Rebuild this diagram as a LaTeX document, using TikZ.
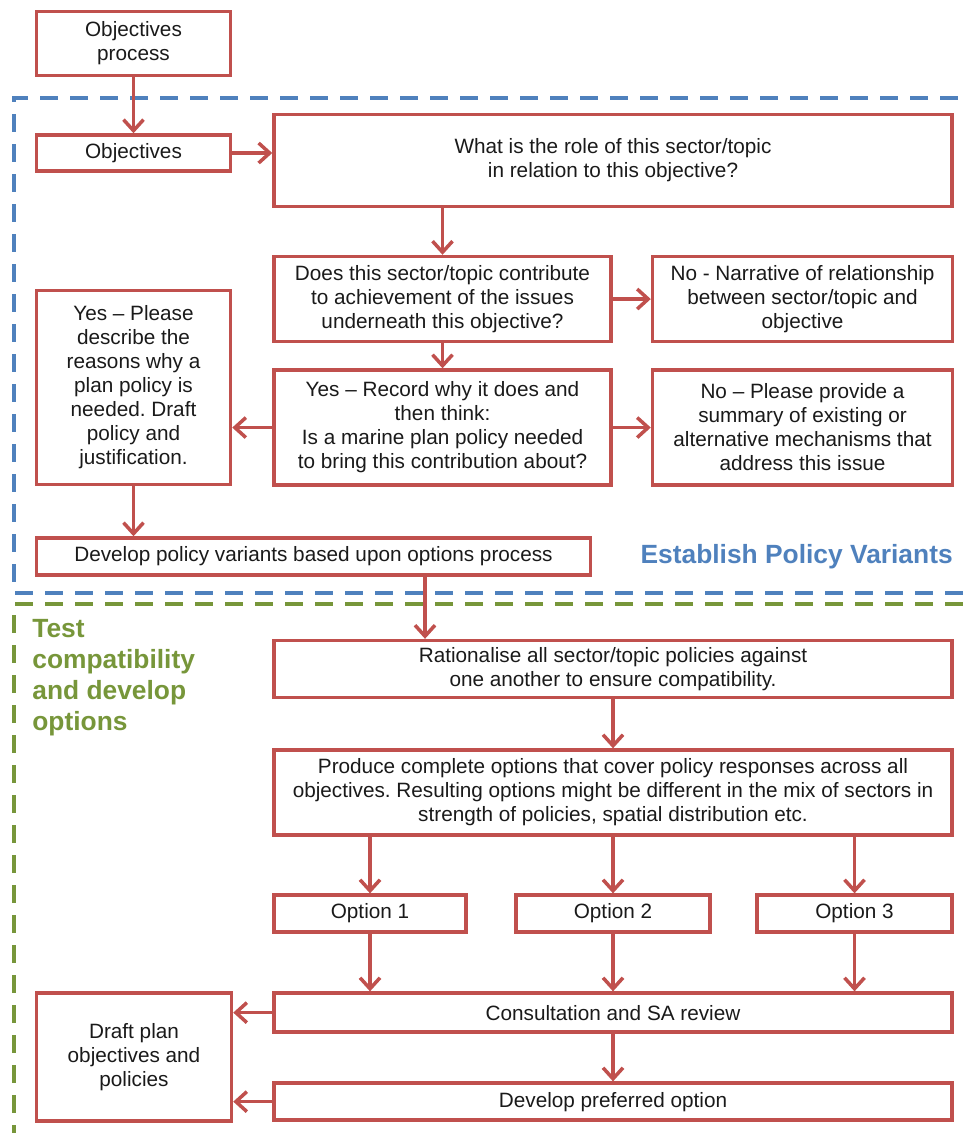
\documentclass[tikz,border=0pt]{standalone}
\usepackage{fontspec}
\setmainfont{Liberation Sans}
\usepackage{xcolor}
\usepackage{tikz}
\usetikzlibrary{arrows.meta, positioning}
\definecolor{PlanRed}{RGB}{192, 80, 77}
\definecolor{VariantBlue}{RGB}{79, 129, 189}
\definecolor{OptionGreen}{RGB}{119, 150, 58}
\definecolor{InkDark}{RGB}{26, 26, 26}
\frenchspacing

\begin{document}
\begin{tikzpicture}[
    font=\fontsize{11.8}{13.66}\selectfont,
    block/.style={
        rectangle, draw=PlanRed, line width=2pt, fill=white,
        text=InkDark, align=center, inner sep=2pt
    },
    title/.style={
        font=\fontsize{15}{17.6}\selectfont\bfseries,
        inner sep=0pt, align=left
    },
    frame/.style={line width=2.3pt, dash pattern=on 0.36cm off 0.24cm},
    arrow/.style={-{Straight Barb[length=2.2mm,width=4mm]}, line width=2pt, draw=PlanRed}
]
\useasboundingbox (0,0) rectangle (19.26,-22.66);

% Regions
\draw[frame, draw=VariantBlue] (19.26,-11.86) -- (0.28,-11.86) -- (0.28,-1.96) -- (19.26,-1.96);
\draw[frame, draw=OptionGreen] (19.26,-12.08) -- (0.28,-12.08) -- (0.28,-22.66);

% Nodes
\node[block, minimum width=3.88cm, minimum height=1.28cm] (procbox) at (2.67,-0.87) {Objectives\\process};
\node[block, below=1.12cm of procbox, minimum width=3.88cm, minimum height=0.72cm] (objbox) {Objectives};
\node[block, below right=-1.2cm and 0.8cm of objbox, minimum width=13.56cm, minimum height=1.84cm] (rolebox) {What is the role of this sector/topic\\in relation to this objective?};

\node[block, below right=0.93cm and 0cm of rolebox.south west, minimum width=6.74cm, minimum height=1.7cm] (contribbox) {Does this sector/topic contribute\\to achievement of the issues\\underneath this objective?};
\node[block, right=0.76cm of contribbox, minimum width=6cm, minimum height=1.7cm] (narrbox) {No - Narrative of relationship\\between sector/topic and\\objective};
\node[block, below=0.5cm of contribbox, minimum width=6.74cm, minimum height=2.3cm] (recordbox) {Yes -- Record why it does and\\then think:\\Is a marine plan policy needed\\to bring this contribution about?};
\node[block, right=0.76cm of recordbox, minimum width=6cm, minimum height=2.3cm] (mechbox) {No -- Please provide a\\summary of existing or\\alternative mechanisms that\\address this issue};
\node[block, below=2.32cm of objbox, minimum width=3.88cm, minimum height=3.88cm] (yesbox) {Yes -- Please\\describe the\\reasons why a\\plan policy is\\needed. Draft\\policy and\\justification.};

\node[block, below right=1.0cm and 0cm of yesbox.south west, minimum width=11.08cm, minimum height=0.74cm] (variantbox) {Develop policy variants based upon options process};
\node[title, text=VariantBlue, right=0.96cm of variantbox] (esttitle) {Establish Policy Variants};
\node[title, text=OptionGreen, anchor=north west] (testtitle) at (0.64,-12.38) {Test\\compatibility\\and develop\\options};

\node[block, below right=3.04cm and 0cm of recordbox.south west, minimum width=13.56cm, minimum height=1.14cm] (ratbox) {Rationalise all sector/topic policies against\\one another to ensure compatibility.};
\node[block, below=0.98cm of ratbox, minimum width=13.56cm, minimum height=1.7cm] (prodbox) {Produce complete options that cover policy responses across all\\objectives. Resulting options might be different in the mix of sectors in\\strength of policies, spatial distribution etc.};

\node[block, below=1.13cm of prodbox, minimum width=3.88cm, minimum height=0.74cm] (opt2) {Option 2};
\node[block, below right=1.13cm and 0cm of prodbox.south west, minimum width=3.84cm, minimum height=0.74cm] (opt1) {Option 1};
\node[block, below left=1.13cm and 0cm of prodbox.south east, minimum width=3.9cm, minimum height=0.74cm] (opt3) {Option 3};

\node[block, below=1.15cm of opt2.south -| prodbox.south, minimum width=13.56cm, minimum height=0.78cm] (consbox) {Consultation and SA review};
\node[block, below=0.95cm of consbox, minimum width=13.56cm, minimum height=0.74cm] (prefbox) {Develop preferred option};
\node[block, below left=0cm and 0.78cm of consbox.north west, minimum width=3.9cm, minimum height=2.56cm] (draftbox) {Draft plan\\objectives and\\policies};

% Paths
\draw[arrow] (procbox) -- (objbox);
\draw[arrow] (objbox.east) -- (objbox.east -| rolebox.west);
\draw[arrow] (rolebox.south -| contribbox.north) -- (contribbox);
\draw[arrow] (contribbox) -- (narrbox);
\draw[arrow] (contribbox) -- (recordbox);
\draw[arrow] (recordbox.west) -- (recordbox.west -| yesbox.east);
\draw[arrow] (recordbox) -- (mechbox);
\draw[arrow] (yesbox) -- (yesbox.south |- variantbox.north);
\draw[arrow] ([xshift=2.23cm]variantbox.south) -- ([xshift=2.23cm]variantbox.south |- ratbox.north);
\draw[arrow] (ratbox) -- (prodbox);

\foreach \opt in {opt1, opt2, opt3} {
    \draw[arrow] (prodbox.south -| \opt.north) -- (\opt);
    \draw[arrow] (\opt) -- (\opt.south |- consbox.north);
}

\draw[arrow] (consbox) -- (prefbox);
\draw[arrow] (consbox.west) -- (consbox.west -| draftbox.east);
\draw[arrow] (prefbox.west) -- (prefbox.west -| draftbox.east);

\end{tikzpicture}
\end{document}
